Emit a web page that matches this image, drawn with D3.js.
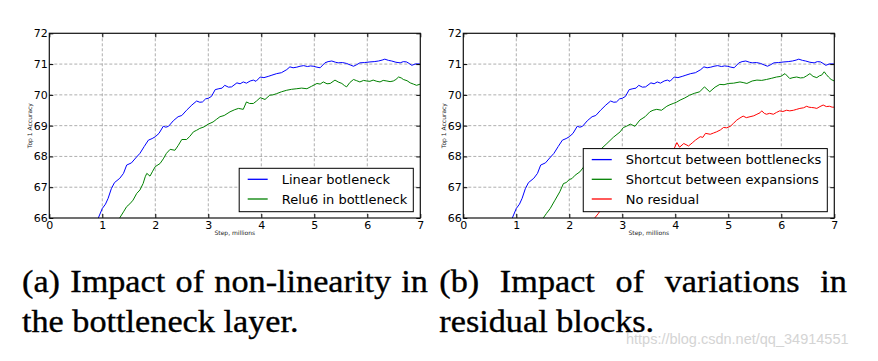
<!DOCTYPE html>
<html>
<head>
<meta charset="utf-8">
<script src="https://cdn.jsdelivr.net/npm/d3@7"></script>
<style>
body { margin: 0; background: #fff; }
svg { display: block; }
</style>
</head>
<body>
<div id="plot"></div>
<script>
var width = 878;
var height = 361;

// ticks
var stepTicks = [0, 1, 2, 3, 4, 5, 6, 7];
var accTicks = [66, 67, 68, 69, 70, 71, 72];

// series: [step (millions), top-1 accuracy]
var linearBottleneck = [[0.92,65.98],[1.0,66.31],[1.06,66.45],[1.11,66.64],[1.17,66.95],[1.23,67.15],[1.33,67.29],[1.40,67.45],[1.46,67.72],[1.55,67.79],[1.63,67.95],[1.71,68.1],[1.79,68.32],[1.87,68.53],[1.94,68.58],[2.0,68.64],[2.07,68.75],[2.15,68.98],[2.2,68.95],[2.25,68.98],[2.34,69.16],[2.43,69.29],[2.5,69.33],[2.59,69.5],[2.69,69.67],[2.78,69.8],[2.84,69.76],[2.89,69.77],[2.95,69.87],[3.0,69.89],[3.06,69.95],[3.13,70.17],[3.2,70.2],[3.26,70.22],[3.31,70.31],[3.38,70.25],[3.44,70.26],[3.54,70.39],[3.6,70.36],[3.66,70.42],[3.72,70.38],[3.79,70.45],[3.85,70.48],[3.9,70.44],[3.98,70.58],[4.05,70.56],[4.13,70.6],[4.2,70.64],[4.29,70.69],[4.38,70.72],[4.48,70.82],[4.54,70.91],[4.6,70.88],[4.67,70.9],[4.73,70.93],[4.8,70.95],[4.87,70.92],[4.93,70.94],[4.98,70.93],[5.05,70.9],[5.11,70.88],[5.2,71.04],[5.26,71.08],[5.33,71.1],[5.4,71.06],[5.45,71.04],[5.53,71.05],[5.61,71.02],[5.68,70.97],[5.74,70.93],[5.8,70.98],[5.86,71.04],[5.95,71.05],[6.05,71.07],[6.13,71.08],[6.21,71.1],[6.28,71.13],[6.33,71.16],[6.4,71.12],[6.46,71.1],[6.54,71.06],[6.62,71.04],[6.68,71.08],[6.74,71.07],[6.79,71.02],[6.84,70.96],[6.9,71.0],[6.95,71.01],[7.0,71.0]];

var relu6Bottleneck = [[1.32,65.98],[1.4,66.2],[1.46,66.37],[1.52,66.46],[1.58,66.58],[1.65,66.8],[1.71,66.91],[1.77,67.12],[1.81,67.34],[1.84,67.45],[1.9,67.36],[1.95,67.52],[2.0,67.67],[2.09,67.77],[2.15,67.92],[2.21,68.1],[2.28,68.23],[2.37,68.2],[2.43,68.35],[2.5,68.55],[2.59,68.55],[2.65,68.65],[2.72,68.8],[2.78,68.85],[2.84,68.91],[2.92,68.96],[3.0,69.05],[3.09,69.12],[3.15,69.2],[3.22,69.29],[3.3,69.33],[3.41,69.45],[3.5,69.52],[3.57,69.56],[3.66,69.53],[3.72,69.77],[3.78,69.72],[3.85,69.72],[3.91,69.8],[3.98,69.91],[4.07,69.85],[4.16,69.99],[4.22,70.0],[4.29,70.04],[4.38,70.1],[4.48,70.15],[4.57,70.18],[4.67,70.2],[4.76,70.22],[4.86,70.2],[4.95,70.28],[5.05,70.37],[5.11,70.35],[5.17,70.42],[5.24,70.36],[5.3,70.37],[5.39,70.48],[5.45,70.42],[5.52,70.37],[5.57,70.3],[5.61,70.26],[5.67,70.4],[5.74,70.5],[5.8,70.46],[5.86,70.42],[5.93,70.47],[5.99,70.45],[6.05,70.44],[6.11,70.48],[6.18,70.44],[6.24,70.42],[6.3,70.47],[6.37,70.45],[6.43,70.43],[6.49,70.45],[6.54,70.5],[6.59,70.58],[6.64,70.55],[6.68,70.5],[6.75,70.46],[6.81,70.39],[6.87,70.35],[6.93,70.31],[7.0,70.35]];

var shortcutExpansions = [[1.5,65.98],[1.57,66.15],[1.64,66.31],[1.73,66.58],[1.82,66.85],[1.89,67.12],[1.94,67.15],[2.0,67.25],[2.05,67.28],[2.11,67.39],[2.2,67.5],[2.3,67.72],[2.4,67.9],[2.5,68.05],[2.61,68.26],[2.71,68.42],[2.83,68.62],[2.96,68.8],[3.02,68.94],[3.08,68.98],[3.15,69.05],[3.24,68.98],[3.33,69.18],[3.43,69.29],[3.52,69.45],[3.58,69.5],[3.65,69.53],[3.74,69.5],[3.84,69.63],[3.9,69.68],[3.96,69.72],[4.02,69.76],[4.09,69.83],[4.18,69.9],[4.27,69.99],[4.36,70.05],[4.46,70.1],[4.55,70.26],[4.65,70.1],[4.75,70.25],[4.84,70.34],[4.92,70.33],[5.0,70.37],[5.1,70.38],[5.22,70.42],[5.28,70.4],[5.35,70.37],[5.45,70.45],[5.54,70.48],[5.63,70.47],[5.72,70.5],[5.82,70.54],[5.91,70.58],[5.99,70.6],[6.07,70.69],[6.16,70.53],[6.22,70.56],[6.29,70.58],[6.36,70.55],[6.42,70.56],[6.48,70.62],[6.54,70.69],[6.6,70.6],[6.67,70.56],[6.72,70.62],[6.76,70.64],[6.81,70.75],[6.85,70.66],[6.89,70.58],[6.94,70.5],[7.0,70.45]];

var noResidual = [[2.47,65.98],[2.55,66.15],[2.62,66.35],[2.7,66.55],[2.8,66.75],[2.9,66.92],[3.0,67.08],[3.1,67.22],[3.2,67.35],[3.3,67.48],[3.4,67.6],[3.5,67.7],[3.6,67.8],[3.7,67.9],[3.8,67.98],[3.9,68.1],[3.97,68.22],[4.03,68.45],[4.08,68.3],[4.16,68.42],[4.25,68.34],[4.32,68.44],[4.38,68.53],[4.47,68.64],[4.52,68.62],[4.57,68.75],[4.66,68.72],[4.72,68.76],[4.78,68.8],[4.85,68.86],[4.91,68.94],[4.97,68.93],[5.04,68.98],[5.1,69.08],[5.16,69.18],[5.22,69.25],[5.28,69.31],[5.34,69.26],[5.41,69.29],[5.48,69.32],[5.54,69.37],[5.6,69.42],[5.63,69.48],[5.68,69.4],[5.72,69.37],[5.78,69.4],[5.85,69.37],[5.91,69.43],[5.97,69.48],[6.03,69.46],[6.1,69.5],[6.16,69.48],[6.23,69.5],[6.29,69.53],[6.35,69.56],[6.42,69.58],[6.48,69.63],[6.52,69.6],[6.57,69.59],[6.62,69.58],[6.67,69.56],[6.73,69.62],[6.79,69.67],[6.85,69.62],[6.91,69.63],[6.96,69.6],[7.0,69.6]];

// legend labels / captions
var leftNames = ['Linear botleneck', 'Relu6 in bottleneck'];
var rightNames = ['Shortcut between bottlenecks', 'Shortcut between expansions', 'No residual'];
var captionA = [['(a)', 'Impact', 'of', 'non-linearity', 'in'], ['the', 'bottleneck', 'layer.']];
var captionB = [['(b)', 'Impact', 'of', 'variations', 'in'], ['residual', 'blocks.']];
var watermark = 'https://blog.csdn.net/qq_34914551';

var canvas = d3.select('#plot')
    .append('svg')
    .attr('width', width)
    .attr('height', height);

var plot_w = 371;
var plot_h = 184.7;
var plot_top = 33.3;

var panels = [
    { id: 'a', left: 49.3,  series: [linearBottleneck, relu6Bottleneck], names: leftNames, colors: ['#0000ff', '#008000'] },
    { id: 'b', left: 463.3, series: [linearBottleneck, shortcutExpansions, noResidual], names: rightNames, colors: ['#0000ff', '#008000', '#ff0000'] }
];

panels.forEach(function(p) {
    var x = d3.scaleLinear().domain([0, 7]).range([0, plot_w]);
    var y = d3.scaleLinear().domain([66, 72]).range([plot_h, 0]);

    var g = canvas.append('g')
        .attr('transform', 'translate(' + p.left + ',' + plot_top + ')');

    g.append('clipPath').attr('id', 'clip-' + p.id)
        .append('rect').attr('width', plot_w).attr('height', plot_h);

    // grid
    g.selectAll('line.vgrid')
        .data(stepTicks.slice(1, -1))
        .enter().append('line')
        .attr('x1', function(d) { return x(d); })
        .attr('x2', function(d) { return x(d); })
        .attr('y1', 0).attr('y2', plot_h)
        .attr('stroke', '#9a9a9a').attr('stroke-width', 0.8)
        .attr('stroke-dasharray', '3,2');
    g.selectAll('line.hgrid')
        .data(accTicks.slice(1, -1))
        .enter().append('line')
        .attr('y1', function(d) { return y(d); })
        .attr('y2', function(d) { return y(d); })
        .attr('x1', 0).attr('x2', plot_w)
        .attr('stroke', '#9a9a9a').attr('stroke-width', 0.8)
        .attr('stroke-dasharray', '3,2');

    // curves
    var line_gen = d3.line()
        .x(function(d) { return x(d[0]); })
        .y(function(d) { return y(d[1]); });
    g.append('g').attr('clip-path', 'url(#clip-' + p.id + ')')
        .selectAll('path.curve')
        .data(p.series)
        .enter().append('path')
        .attr('class', 'curve')
        .attr('d', line_gen)
        .attr('fill', 'none')
        .attr('stroke', function(d, i) { return p.colors[i]; })
        .attr('stroke-width', 1)
        .attr('stroke-linejoin', 'round');

    // axes (ticks inward on all sides, matplotlib classic)
    var tickStyle = function(sel) {
        sel.select('.domain').remove();
        sel.selectAll('.tick line').attr('stroke', '#000');
        sel.selectAll('.tick text')
            .attr('font-family', 'DejaVu Sans')
            .attr('font-size', 11)
            .attr('fill', '#000');
    };
    g.append('g').attr('transform', 'translate(0,' + plot_h + ')')
        .call(d3.axisBottom(x).tickValues(stepTicks).tickSize(-4).tickPadding(3).tickFormat(d3.format('d')))
        .call(tickStyle);
    g.append('g')
        .call(d3.axisTop(x).tickValues(stepTicks).tickSize(-4).tickFormat(''))
        .call(tickStyle);
    g.append('g')
        .call(d3.axisLeft(y).tickValues(accTicks).tickSize(-4).tickPadding(1.5).tickFormat(d3.format('d')))
        .call(tickStyle);
    g.append('g').attr('transform', 'translate(' + plot_w + ',0)')
        .call(d3.axisRight(y).tickValues(accTicks).tickSize(-4).tickFormat(''))
        .call(tickStyle);

    g.append('rect')
        .attr('width', plot_w).attr('height', plot_h)
        .attr('fill', 'none')
        .attr('stroke', '#111')
        .attr('stroke-width', 1.2);

    // axis titles
    g.append('text')
        .attr('x', plot_w / 2).attr('y', plot_h + 17)
        .attr('text-anchor', 'middle')
        .attr('font-family', 'DejaVu Sans').attr('font-size', 6)
        .attr('fill', '#222')
        .text('Step, millions');
    g.append('text')
        .attr('transform', 'translate(-17,' + (plot_h / 2) + ') rotate(-90)')
        .attr('text-anchor', 'middle')
        .attr('font-family', 'DejaVu Sans').attr('font-size', 6)
        .attr('fill', '#222')
        .text('Top 1 Accuracy');

    // legend, lower right
    var rowGap = 19.7;
    var legend = g.append('g');
    var box = legend.append('rect')
        .attr('fill', '#fff')
        .attr('stroke', '#000')
        .attr('stroke-width', 1);
    var items = legend.selectAll('g.item')
        .data(p.names)
        .enter().append('g')
        .attr('class', 'item')
        .attr('transform', function(d, i) { return 'translate(0,' + (11 + i * rowGap) + ')'; });
    items.append('line')
        .attr('x1', 8.5).attr('x2', 28.5)
        .attr('stroke', function(d, i) { return p.colors[i]; })
        .attr('stroke-width', 1.3);
    items.append('text')
        .attr('x', 42.5)
        .attr('dy', '0.35em')
        .attr('font-family', 'DejaVu Sans').attr('font-size', 13)
        .attr('fill', '#000')
        .text(function(d) { return d; });
    var maxLen = d3.max(items.selectAll('text').nodes(), function(n) { return n.getComputedTextLength(); });
    var boxW = 42.5 + maxLen + 6;
    var boxH = 11 + (p.names.length - 1) * rowGap + 12.7;
    box.attr('width', boxW).attr('height', boxH);
    legend.attr('transform', 'translate(' + (plot_w - 7 - boxW) + ',' + (plot_h - 6.3 - boxH) + ')');
});

// captions (justified serif, a bit wider than normal)
var capScale = 1.07;
function captionLine(words, x, y, w, justify) {
    var g = canvas.append('g')
        .attr('transform', 'translate(' + x + ',' + y + ') scale(' + capScale + ',1)');
    var texts = g.selectAll('text')
        .data(words)
        .enter().append('text')
        .attr('font-family', "'Liberation Serif', 'Times New Roman', serif")
        .attr('font-size', 32)
        .attr('fill', '#000')
        .attr('stroke', '#000')
        .attr('stroke-width', 0.35)
        .text(function(d) { return d; });
    var widths = texts.nodes().map(function(n) { return n.getComputedTextLength(); });
    var gap = justify ? (w / capScale - d3.sum(widths)) / (words.length - 1) : 8;
    var cx = 0;
    texts.attr('x', function(d, i) { var v = cx; cx += widths[i] + gap; return v; });
}
captionLine(captionA[0], 22, 291.7, 406, true);
captionLine(captionA[1], 22, 331.7, 0, false);
captionLine(captionB[0], 439.3, 291.7, 407.7, true);
captionLine(captionB[1], 439.3, 331.7, 0, false);

canvas.append('text')
    .attr('x', 626).attr('y', 344)
    .attr('font-family', 'Liberation Sans')
    .attr('font-size', 14.5)
    .attr('fill', '#d4d4d4')
    .text(watermark);
</script>
</body>
</html>
